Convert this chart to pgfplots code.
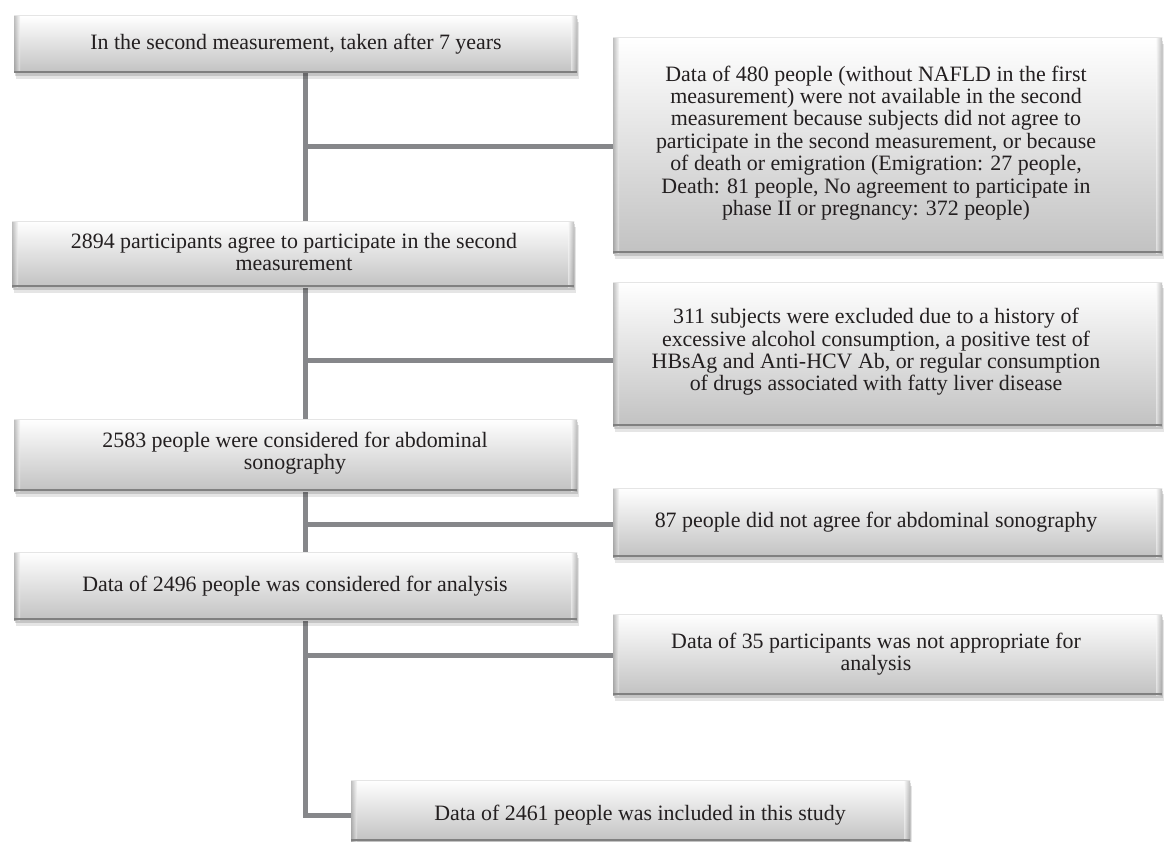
\documentclass[border=0pt]{standalone}
\usepackage{pgfplots}
\pgfplotsset{compat=1.18}
\usepackage{fontspec}
\setmainfont{Liberation Serif}

\definecolor{conn}{HTML}{86878A}
\definecolor{txt}{HTML}{231F20}

% box: x0 y0 x1 y1 textx texty text
\newcommand{\flowbox}[7]{%
  \fill[black, opacity=0.10, xshift=2bp, yshift=-6bp] (axis cs:#1,#2) rectangle (axis cs:#3,#4);
  \fill[black, opacity=0.14, xshift=1bp, yshift=-3bp] (axis cs:#1,#2) rectangle (axis cs:#3,#4);
  \shade[top color=white, middle color=black!4, bottom color=black!24] (axis cs:#1,#2) rectangle (axis cs:#3,#4);
  \shade[left color=black!45, right color=black!3, opacity=0.55] (axis cs:#1,#2) rectangle ([xshift=6bp]axis cs:#1,#4);
  \shade[left color=black!3, right color=black!45, opacity=0.55] ([xshift=-6bp]axis cs:#3,#2) rectangle (axis cs:#3,#4);
  \draw[black!10, line width=1bp] (axis cs:#1,#2) -- (axis cs:#3,#2);
  \draw[black!50, line width=2bp, yshift=1bp] (axis cs:#1,#4) -- (axis cs:#3,#4);
  \node[align=center, text=txt, font=\fontsize{22}{22.5}\selectfont] at (axis cs:#5,#6) {#7};
}

\begin{document}
\begin{tikzpicture}
\begin{axis}[
  width=1165bp, height=842bp, scale only axis,
  xmin=0, xmax=1165, ymin=0, ymax=842,
  y dir=reverse, hide axis, clip=false,
]
\coordinate (bl) at (axis cs:0,842);
\coordinate (tr) at (axis cs:1165,0);
% connectors
\addplot[draw=conn, line width=5bp, mark=none] coordinates {(305,72) (305,815) (352,815)};
\addplot[draw=conn, line width=5bp, mark=none] coordinates {(305,147) (614,147)};
\addplot[draw=conn, line width=5bp, mark=none] coordinates {(305,360) (614,360)};
\addplot[draw=conn, line width=5bp, mark=none] coordinates {(305,524) (614,524)};
\addplot[draw=conn, line width=5bp, mark=none] coordinates {(305,655) (614,655)};

% boxes
\flowbox{14}{16}{577}{73}{296}{44}{In the second measurement, taken after 7 years}
\flowbox{613}{38}{1162}{253}{876}{143}{Data of 480 people (without NAFLD in the first\\measurement) were not available in the second\\measurement because subjects did not agree to\\participate in the second measurement, or because\\of death or emigration (Emigration: 27 people,\\Death: 81 people, No agreement to participate in\\phase II or pregnancy: 372 people)}
\flowbox{12}{221}{574}{287}{294}{252}{2894 participants agree to participate in the second\\measurement}
\flowbox{613}{282}{1162}{426}{876}{352}{311 subjects were excluded due to a history of\\excessive alcohol consumption, a positive test of\\HBsAg and Anti-HCV Ab, or regular consumption\\of drugs associated with fatty liver disease}
\flowbox{14}{419}{577}{491}{295}{453}{2583 people were considered for abdominal\\sonography}
\flowbox{613}{488}{1162}{557}{876}{522}{87 people did not agree for abdominal sonography}
\flowbox{14}{552}{577}{620}{295}{586}{Data of 2496 people was considered for analysis}
\flowbox{613}{614}{1162}{695}{876}{654}{Data of 35 participants was not appropriate for\\analysis}
\flowbox{351}{780}{910}{841}{640}{815}{Data of 2461 people was included in this study}
\end{axis}
\pgfresetboundingbox
\useasboundingbox (bl) rectangle (tr);
\end{tikzpicture}
\end{document}
